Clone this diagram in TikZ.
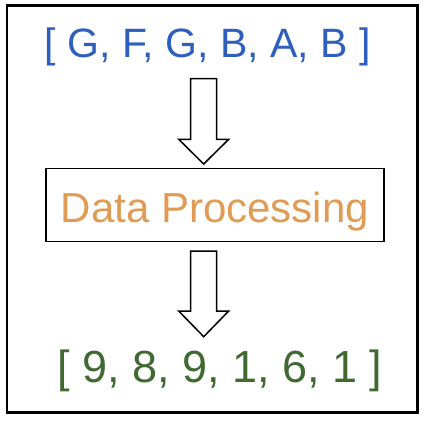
\documentclass[tikz,border=0pt]{standalone}
\usepackage{fontspec}
\setmainfont{Liberation Sans}
\definecolor{listblue}{RGB}{47,95,190}
\definecolor{procorange}{RGB}{224,155,85}
\definecolor{outgreen}{RGB}{65,105,50}
\begin{document}
\begin{tikzpicture}[x=1pt,y=-1pt,
  blockarrow/.style={draw=black,line width=1.5pt,fill=white,line join=miter},
  procbox/.style={draw=black,line width=1.5pt,minimum width=338pt,minimum height=73pt,inner sep=0pt}]
\useasboundingbox (0,0) rectangle (425,421);
\draw[line width=2.4pt] (7,5.5) rectangle (417.5,412.5);
\node[anchor=base,text=listblue,font=\fontsize{41}{41}\selectfont,inner sep=0pt] (in) at (207.5,57) {[ G, F, G, B, A, B ]};
\node[procbox] (proc) at (215,205) {};
\node[anchor=base,text=procorange,font=\fontsize{42}{42}\selectfont,inner sep=0pt] (proctext) at (215,222) {Data Processing};
\node[anchor=base,text=outgreen,font=\fontsize{45}{45}\selectfont,inner sep=0pt] (out) at (219.7,382.5) {[ 9, 8, 9, 1, 6, 1 ]};
\draw[blockarrow] (190.7,78.7) -- (216.7,78.7) -- (216.7,139.3) -- (228.7,139.3) -- (203.7,164) -- (178.7,139.3) -- (190.7,139.3) -- cycle;
\draw[blockarrow] (190.7,251) -- (216.7,251) -- (216.7,311) -- (228.7,311) -- (203.7,336.7) -- (178.7,311) -- (190.7,311) -- cycle;
\end{tikzpicture}
\end{document}
